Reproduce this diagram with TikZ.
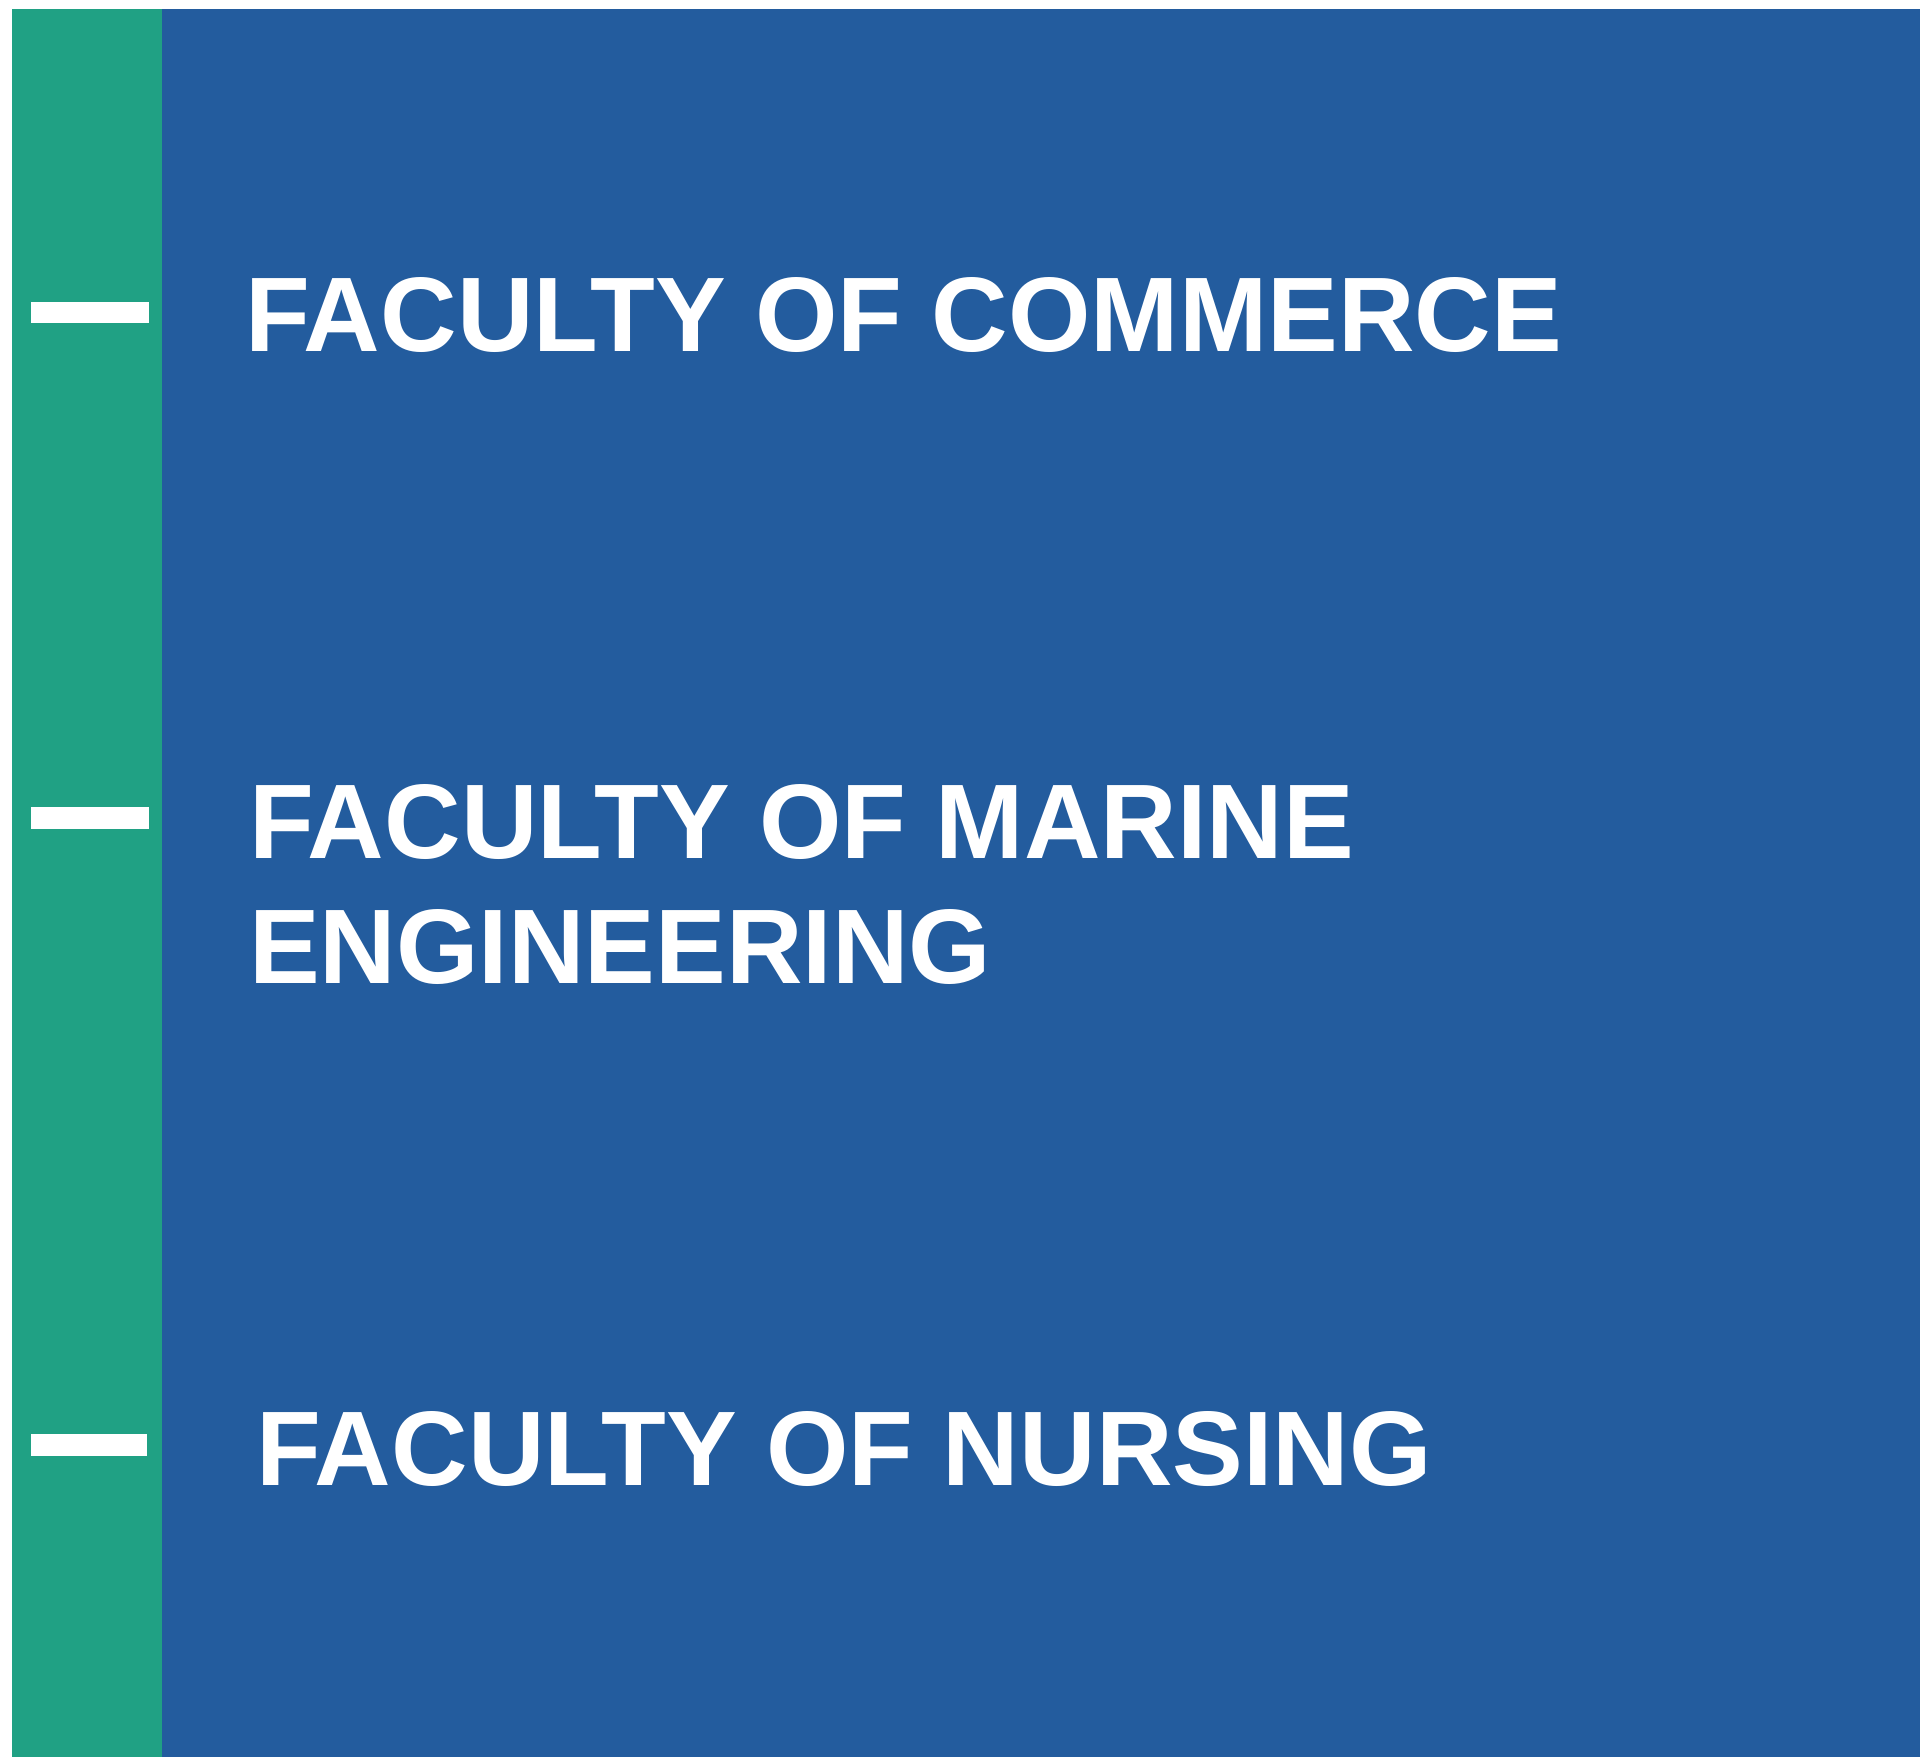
\documentclass[tikz,border=0pt]{standalone}
\usepackage{fontspec}
\setmainfont{Liberation Sans}
\definecolor{panelgreen}{RGB}{32,161,132}
\definecolor{panelblue}{RGB}{35,92,158}
\tikzset{
  label/.style={anchor=base west, inner sep=0pt, outer sep=0pt, text=white,
    font=\fontsize{106}{125}\selectfont\bfseries, align=left},
  tick/.style={fill=white},
}
\begin{document}
\begin{tikzpicture}[x=1pt,y=-1pt]
\useasboundingbox (0,0) rectangle (1920,1757);
\fill[white] (0,0) rectangle (1920,1757);
\fill[panelgreen] (12,9) rectangle (162,1757);
\fill[panelblue] (162,9) rectangle (1920,1757);
\fill[tick] (31,302) rectangle (149,323);
\fill[tick] (31,807) rectangle (149,829);
\fill[tick] (31,1434) rectangle (147,1456);
\node[label] (commerce) at (245,351) {FACULTY OF COMMERCE};
\node[label] (marine) at (249,983) {FACULTY OF MARINE\\ENGINEERING};
\node[label] (nursing) at (256,1485) {FACULTY OF NURSING};
\end{tikzpicture}
\end{document}
